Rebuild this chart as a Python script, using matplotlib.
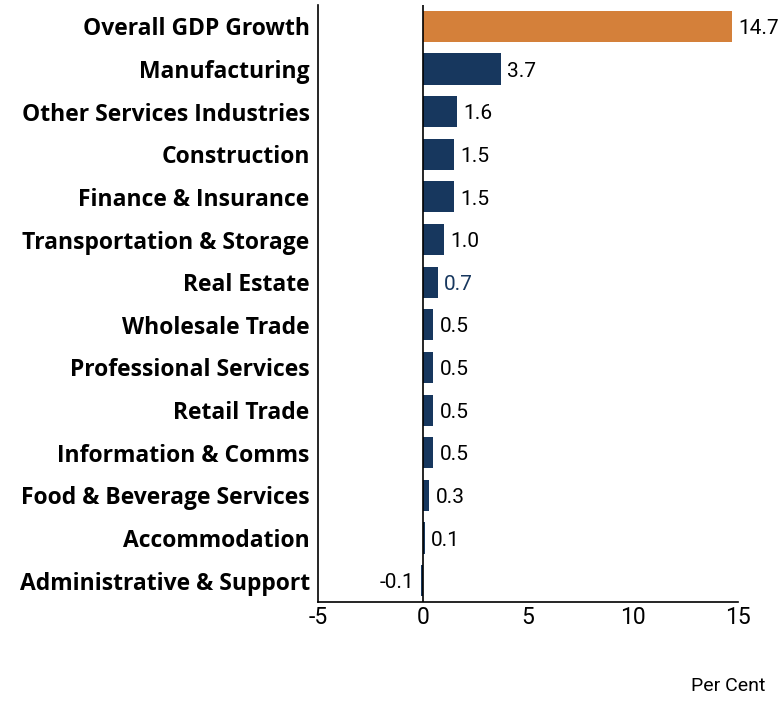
import matplotlib
matplotlib.use('Agg')
import matplotlib.pyplot as plt

# Data
sectors = ['Overall GDP Growth', 'Manufacturing', 'Other Services Industries',
           'Construction', 'Finance & Insurance', 'Transportation & Storage',
           'Real Estate', 'Wholesale Trade', 'Professional Services',
           'Retail Trade', 'Information & Comms', 'Food & Beverage Services',
           'Accommodation', 'Administrative & Support']
values = [14.7, 3.7, 1.6, 1.5, 1.5, 1.0, 0.7, 0.5, 0.5, 0.5, 0.5, 0.3, 0.1, -0.1]
xticks = [-5, 0, 5, 10, 15]

navy = '#17375e'
orange = '#d4803a'

plt.rcParams['font.family'] = ['Roboto', 'DejaVu Sans']

fig = plt.figure(figsize=(7.82, 7.01), dpi=100)
ax = fig.add_axes([0.4066, 0.1412, 0.5371, 0.8517])

ypos = list(range(len(sectors)))
colors = [orange] + [navy] * (len(sectors) - 1)
ax.barh(ypos, values, height=0.73, color=colors)
ax.axvline(0, color='black', lw=1.2)

# value labels
for y, v in zip(ypos, values):
    col = navy if sectors[y] == 'Real Estate' else 'black'
    if v >= 0:
        ax.text(v + 0.3, y + 0.05, f'{v:.1f}', va='center', ha='left', fontsize=15, color=col)
    else:
        ax.text(v - 0.3, y + 0.05, f'{v:.1f}', va='center', ha='right', fontsize=15, color=col)

ax.set_xlim(-5, 15)
ax.set_ylim(len(sectors) - 0.5, -0.5)
ax.set_xticks(xticks)
ax.set_xticklabels([str(t) for t in xticks], fontsize=16.5)
ax.set_yticks(ypos)
ax.set_yticklabels(sectors, fontsize=16.5, fontweight='bold', family=['Open Sans', 'DejaVu Sans'])
ax.tick_params(length=0, pad=6)
ax.tick_params(axis='x', pad=3)
ax.spines['top'].set_visible(False)
ax.spines['right'].set_visible(False)
for s in ['left', 'bottom']:
    ax.spines[s].set_linewidth(1.2)

fig.text(765 / 782, 1 - 686 / 701, 'Per Cent', ha='right', va='center', fontsize=14)

plt.savefig('out.png', dpi=100)
plt.close('all')
